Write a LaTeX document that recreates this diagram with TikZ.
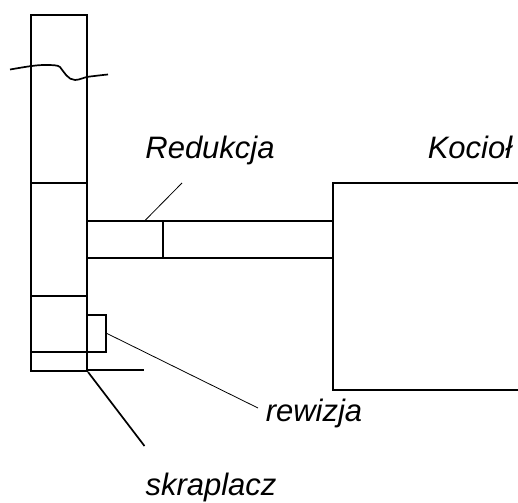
\documentclass[tikz,border=0pt]{standalone}
\usepackage{fontspec}
\setmainfont{Liberation Sans}
\tikzset{ln/.style={draw=black,line width=1.7pt},thn/.style={draw=black,line width=0.8pt},lab/.style={font=\fontsize{31}{36}\selectfont\itshape,text=black,inner sep=0pt}}
\begin{document}
\begin{tikzpicture}[x=1pt,y=-1pt]
\useasboundingbox (0,0) rectangle (518,502);
\path[ln] (31,15) rectangle (87,371);
\path[ln] (31,183) -- (87,183);
\path[ln] (31,295.8) -- (87,295.8);
\path[ln] (31,352) -- (87,352);
\path[ln] (31,371) -- (87,371);
\path[ln] (87,370.2) -- (144,370.2);
\path[ln] (87,221) rectangle (333,258);
\path[ln] (163,221) -- (163,258);
\path[ln] (518,183) -- (333,183) -- (333,390) -- (518,390);
\path[ln] (87,314.9) rectangle (106,352);
\path[ln] (88,372) -- (144.5,446);
\path[thn] (107,333.5) -- (258,408);
\path[thn] (145.5,220) -- (182,183);
\path[ln] (10,69.5) .. controls (25,67) and (35,65) .. (45,65) .. controls (52,65) and (58,65) .. (60,67) .. controls (64,72) and (68,80) .. (75,80) .. controls (80,80) and (84,77) .. (90,76.5) .. controls (95,76) and (102,75) .. (108,74.5);
\node[lab,anchor=base] (r) at (210,159) {Redukcja};
\node[lab,anchor=base] (k) at (470,159) {Kocioł};
\node[lab,anchor=base] (w) at (314,421.5) {rewizja};
\node[lab,anchor=base] (s) at (211,495.5) {skraplacz};
\end{tikzpicture}
\end{document}
